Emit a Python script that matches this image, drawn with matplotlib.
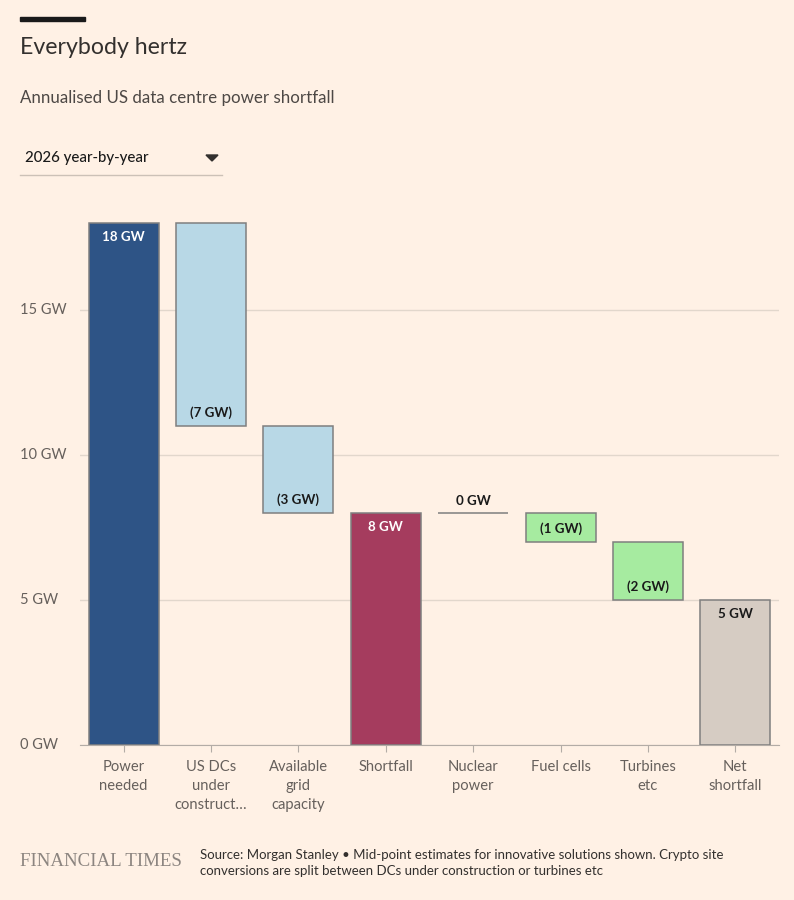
import numpy as np
import matplotlib.pyplot as plt
from matplotlib.patches import Rectangle, Polygon
from matplotlib.lines import Line2D

# data
categories = ["Power\nneeded", "US DCs\nunder\nconstruct\u2026", "Available\ngrid\ncapacity",
              "Shortfall", "Nuclear\npower", "Fuel cells", "Turbines\netc", "Net\nshortfall"]
values = [18, -7, -3, 8, 0, -1, -2, 5]
is_total = [True, False, False, True, False, False, False, True]
bar_colors = ["#2e5486", "#b8d8e6", "#b8d8e6", "#a53c5e", "#b8d8e6", "#a6eba0", "#a6eba0", "#d6ccc3"]
label_colors = ["white", "#1a1a1a", "#1a1a1a", "white", "#1a1a1a", "#1a1a1a", "#1a1a1a", "#1a1a1a"]
y_ticks = [0, 5, 10, 15]
y_tick_labels = ["0 GW", "5 GW", "10 GW", "15 GW"]

BG = "#fff1e5"
FONT = ["Lato", "DejaVu Sans"]
plt.rcParams['font.family'] = FONT

fig = plt.figure(figsize=(7.94, 9), dpi=100, facecolor=BG)
W, H = 794, 900

def fx(px):
    return px / W

def fy(py):
    return 1 - py / H

ax = fig.add_axes([fx(80), fy(745), fx(779) - fx(80), fy(194) - fy(745)])
ax.set_facecolor(BG)
ax.set_xlim(-0.5, 7.5)
ax.set_ylim(0, 19)

# waterfall bottoms
bottoms = []
heights = []
running = 0
for v, t in zip(values, is_total):
    if t:
        bottoms.append(0)
        heights.append(v)
        running = v
    else:
        bottoms.append(running + v)
        heights.append(-v)
        running = running + v

x = np.arange(len(categories))
ax.bar(x, heights, bottom=bottoms, width=0.8, color=bar_colors,
       edgecolor="#7f7f7f", linewidth=1.1, zorder=3)

px_per_gw = (745 - 194) / 19
for i, (v, t) in enumerate(zip(values, is_total)):
    top = bottoms[i] + heights[i]
    if t:
        txt = f"{v} GW"
        yy = top - 14 / px_per_gw
    elif v == 0:
        txt = "0 GW"
        yy = top + 12 / px_per_gw
    else:
        txt = f"({-v} GW)"
        yy = bottoms[i] + 13 / px_per_gw
    ax.text(i, yy, txt, ha="center", va="center", fontsize=9.6, fontweight="bold",
            color=label_colors[i], zorder=4)

# grid and axes
ax.set_yticks(y_ticks)
ax.set_yticklabels([])
ax.grid(axis="y", color="#e2d7cc", linewidth=1, zorder=0)
ax.tick_params(axis="y", length=0)
for yv, lab in zip(y_ticks, y_tick_labels):
    ax.text(-0.5 - 60 / 87.4, yv, lab, ha="left", va="center", fontsize=10.5,
            color="#66605c", transform=ax.transData)
for s in ["top", "right", "left"]:
    ax.spines[s].set_visible(False)
ax.spines["bottom"].set_color("#b3aca6")
ax.spines["bottom"].set_zorder(5)
ax.set_xticks(x)
ax.set_xticklabels(categories, fontsize=10.6, color="#66605c", linespacing=1.45)
ax.tick_params(axis="x", length=5, color="#b3aca6", pad=6)

# header
fig.add_artist(Rectangle((fx(20), fy(21)), fx(85) - fx(20), fy(17) - fy(21),
                         transform=fig.transFigure, color="#1a1a1a"))
fig.text(fx(20), fy(48), "Everybody hertz", fontsize=16.7, color="#33302e", va="center")
fig.text(fx(20), fy(98), "Annualised US data centre power shortfall", fontsize=12.2,
         color="#4d4845", va="center")
fig.text(fx(25), fy(158), "2026 year-by-year", fontsize=10.8, color="#1a1a1a",
         va="center", fontweight="medium")
fig.add_artist(Line2D([fx(20), fx(222)], [fy(175), fy(175)], transform=fig.transFigure,
                      color="#ccc1b7", linewidth=1))
fig.add_artist(Polygon([[fx(206), fy(155)], [fx(218), fy(155)], [fx(212), fy(161)]],
                       closed=True, transform=fig.transFigure, color="#33302e"))

# footer
fig.text(fx(20), fy(862), "FINANCIAL TIMES", fontsize=13.6, color="#8c8580",
         family=["Liberation Serif", "DejaVu Serif"], va="center")
fig.text(fx(200), fy(863),
         "Source: Morgan Stanley \u2022 Mid-point estimates for innovative solutions shown. Crypto site\n"
         "conversions are split between DCs under construction or turbines etc",
         fontsize=9.5, color="#33302e", va="center", linespacing=1.4,
         family=["Liberation Sans Narrow", "Lato", "DejaVu Sans"])

fig.savefig("out.png", dpi=100, facecolor=BG)
